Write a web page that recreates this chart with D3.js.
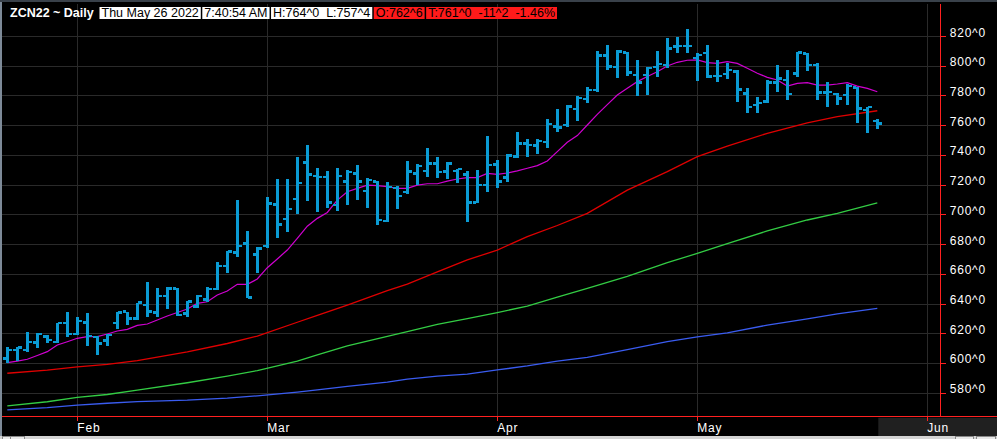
<!doctype html>
<html lang="en">
<head>
    <meta charset="UTF-8">
    <title>ZCN22 Daily</title>
    <script src="https://d3js.org/d3.v7.min.js"></script>
    <style>
        html, body { margin: 0; padding: 0; background: #000; }
        svg { display: block; }
        .hdr { font-family: "Liberation Sans", Arial, sans-serif; font-size: 12.5px; }
        .axis-label { font-family: "Liberation Sans", Arial, sans-serif; font-size: 12px; fill: #fff; letter-spacing: 0.8px; }
    </style>
</head>
<body>
<div class="canvas"></div>

<script>
  // trading days shown on the chart
  const dates = [
    '2022-01-21','2022-01-24','2022-01-25','2022-01-26','2022-01-27','2022-01-28','2022-01-31',
    '2022-02-01','2022-02-02','2022-02-03','2022-02-04','2022-02-07','2022-02-08','2022-02-09','2022-02-10','2022-02-11',
    '2022-02-14','2022-02-15','2022-02-16','2022-02-17','2022-02-18','2022-02-22','2022-02-23','2022-02-24','2022-02-25','2022-02-28',
    '2022-03-01','2022-03-02','2022-03-03','2022-03-04','2022-03-07','2022-03-08','2022-03-09','2022-03-10','2022-03-11',
    '2022-03-14','2022-03-15','2022-03-16','2022-03-17','2022-03-18','2022-03-21','2022-03-22','2022-03-23','2022-03-24','2022-03-25',
    '2022-03-28','2022-03-29','2022-03-30','2022-03-31',
    '2022-04-01','2022-04-04','2022-04-05','2022-04-06','2022-04-07','2022-04-08','2022-04-11','2022-04-12','2022-04-13','2022-04-14',
    '2022-04-18','2022-04-19','2022-04-20','2022-04-21','2022-04-22','2022-04-25','2022-04-26','2022-04-27','2022-04-28','2022-04-29',
    '2022-05-02','2022-05-03','2022-05-04','2022-05-05','2022-05-06','2022-05-09','2022-05-10','2022-05-11','2022-05-12','2022-05-13',
    '2022-05-16','2022-05-17','2022-05-18','2022-05-19','2022-05-20','2022-05-23','2022-05-24','2022-05-25','2022-05-26'
  ];

  const open = [603,608.7,608.7,613.7,617.7,614.3,626.7, 619.5,627.1,617.3,615,626.7,634.5,629.8,639,634,
    645,650.2,633.4,637.9,642.8,649.8,665.2,674.4,680.5,673.1,
    678.7,706.7,696.9,710.3,735,726,725.3,706.3,722, 727.6,715.7,722,695.5,717.9,715.2,727.6,729.1,734.3,728.7,
    729,726.9,708.1,719.8,
    733.5,724.7,738.8,747.8,746.2,748.5,759,760.1,770.9,777.6, 783.7,807,799,808.8,793.8,793.8,799,800.5,812.9,813.3,
    805,808.4,793.1,794.5,796,781.4,773.6,775.8,788.6,790.4, 794.9,808.3,800.5,781.9,781,780.3,785.4,770.2,762.75];
  const high = [610.5,611,620.8,620,618.8,626.7,634.1, 631.2,633.4,618.2,619.5,634.3,634.5,640.6,654.5,650.2,
    650.9,650.2,641.9,645.7,650.9,667.7,675.3,709.7,688.8,678.3,
    711.9,723.8,723.8,738.6,746.6,731,729.1,731.4,729.8, 733.2,724.7,722.4,721.5,719.3,735.9,733.6,744.4,738.8,735,
    730.5,729.2,729.9,752.7,
    736.6,740.4,755.2,750.5,750.5,764.2,770.9,773.6,779.7,785.9, 809.9,814,810.6,809,803.9,799,810,818.5,819.1,824.5,
    808.4,814,803.9,802.1,797.2,784.8,778.7,790.4,800.5,797.1, 809.5,808.8,801.6,789.3,781.4,787.7,785.9,772.4,764];
  const low = [600,601,607.6,609.9,613.2,613.2,617.3, 618.8,611.4,605.4,611.4,622.6,625.6,628.9,630.7,630.7,
    636,631.6,631.2,636.8,641.3,649.1,660.3,671.5,643.5,660.3,
    677.1,683.9,688.4,700,709,701.3,704.5,702.2,706.3, 709.6,704,692.8,695,703.6,713.4,719.7,725.3,724.7,723.8,
    720.9,695.1,707.4,714.8,
    718,722,737.7,738.8,740.4,744.9,755.2,759,762.8,774.7, 782.6,796.8,791.5,793.1,779.7,780.3,792.7,798.3,808.4,808.8,
    790,791.5,789.3,790.9,775.8,768.4,768.4,775.1,782.5,776.9, 792.2,796.7,776.9,772.4,773.6,773.6,761.7,754.5,757.5];
  const close = [608.7,610.5,614.3,619.5,615.5,626.7,619.5, 628.2,618,613.2,618.8,633.9,630,640.6,634.5,645,
    650.2,632.3,641.3,645.1,649.6,665.2,674.9,678.9,644,677.1,
    707.4,693.3,703.6,720.9,726.9,725.3,708.1,726,728.3, 722,723.1,696.2,718.6,712.5,728.7,732.7,734.3,728.3,734.3,
    730.5,708.1,719.8,733.2,
    722,739.5,747.8,746.7,749.4,760.6,758.5,772.5,778.1,783.7, 806.8,799.4,809.5,795.4,788.6,798.3,801.2,811.7,813.3,813.3,
    807.3,792.7,793.1,797.2,784.1,772.4,775.1,788.6,791.5,781, 808.8,800.5,781.9,782.5,778,786.3,771.3,772.4,761];

  // short moving average, read for every bar
  const maShort = [600.2,601.2,602.5,605,607.6,612.1,614.3, 616.6,617.7,617.7,619.5,621.5,622.6,625.3,626.2,628.9,
    631.6,634,636.3,640.1,641.2,645.7,648.4,652.9,652.9,656.5,
    664.1,670,676,683.9,692,697.3,701.3,709.6,715.2, 717.5,719.7,719.3,718.6,717.5,717.5,719.7,720.6,720.6,722.4,
    723.8,724.7,724.7,727.6,
    726.9,727.8,729.2,731,732.8,735.9,742.2,748.5,753,760.1, 767.3,773.8,780.3,784.8,789.3,792.7,796,799.8,802.3,803.7,
    803.9,802.1,801.6,802.8,801.6,798.3,794.9,792.2,790.4,786.3, 788.1,788.6,787,787,787.7,788.6,786.3,784.8,782.5];

  // longer averages, read at these bar positions
  const maAt = [0,4,7,10,13,18,22,25,29,31,34,38,40,43,46,49,52,55,58,62,66,69,72,76,80,83,87];
  const maRed = [593.1,595.2,597.4,599,601.6,607.5,613.1,618.1,627.4,632,639,648.7,653.1,661.3,669.3,676,685,692.5,
    700.7,716.3,728.7,738.8,745.9,754.5,761.6,765.7,769.7];
  const maGreen = [571.1,573.9,576.8,578.8,581.7,586.7,591.2,594.9,601.2,605.4,611.5,617.9,621.1,626,629.9,633.9,638.3,
    644.3,650.2,658.3,667.5,673.7,680.3,688.8,696.2,700.7,707.8];
  const maBlue = [568.4,569.9,571.6,572.9,574,575,576.4,577.9,580.4,581.9,584.3,587.1,589.1,591.2,592.5,595.3,598,
    601.2,603.8,609,614.3,617.5,620.2,625.5,629.7,633,636.7];

  const yTicks = [580, 600, 620, 640, 660, 680, 700, 720, 740, 760, 780, 800, 820];
  const monthTicks = [['Feb', 7], ['Mar', 26], ['Apr', 49], ['May', 69], ['Jun', 92]];

  const headerWhite = ['Thu May 26 2022', '7:40:54 AM', 'H:764^0  L:757^4'];
  const headerRed = ['O:762^6', 'T:761^0  -11^2  -1.46%'];

  const W = 997, H = 439;
  const plotLeft = 2, plotRight = 940.7, plotTop = 4, plotBottom = 416.7;

  const x = d3.scaleLinear().domain([-0.53, 93.34]).range([plotLeft, plotRight]);
  const y = d3.scaleLinear().domain([580, 820]).range([392.7, 36]);

  const svg = d3.select('.canvas')
    .append('svg')
    .attr('width', W)
    .attr('height', H);

  svg.append('rect').attr('width', W).attr('height', H).attr('fill', '#000');

  // grid
  const grid = svg.append('g').attr('shape-rendering', 'crispEdges');
  grid.selectAll('line.h')
    .data(yTicks)
    .join('line')
    .attr('class', 'h')
    .attr('x1', plotLeft).attr('x2', plotRight)
    .attr('y1', d => Math.round(y(d)) + 0.5).attr('y2', d => Math.round(y(d)) + 0.5)
    .attr('stroke', '#2a2a2a');
  grid.selectAll('line.v')
    .data(monthTicks)
    .join('line')
    .attr('class', 'v')
    .attr('x1', d => Math.round(x(d[1])) + 0.5).attr('x2', d => Math.round(x(d[1])) + 0.5)
    .attr('y1', plotTop).attr('y2', plotBottom)
    .attr('stroke', '#2a2a2a');

  // date band, future part is lighter
  svg.append('rect')
    .attr('x', x(dates.length - 1) + 1).attr('y', plotBottom + 1)
    .attr('width', W - x(dates.length - 1)).attr('height', 19)
    .attr('fill', '#202020');

  const plot = svg.append('g');

  // moving averages
  const line = d3.line().x(d => x(d[0])).y(d => y(d[1]));
  const longLines = [[maBlue, '#3a5cf0'], [maGreen, '#33cc44'], [maRed, '#e00000']];
  longLines.forEach(([vals, color]) => {
    plot.append('path')
      .attr('d', line(maAt.map((i, k) => [i, vals[k]])))
      .attr('fill', 'none')
      .attr('stroke', color)
      .attr('stroke-width', 1.3);
  });
  plot.append('path')
    .attr('d', line(maShort.map((v, i) => [i, v])))
    .attr('fill', 'none')
    .attr('stroke', '#d000d0')
    .attr('stroke-width', 1.2);

  // OHLC bars
  const barColor = '#0a9bd4';
  const bars = plot.append('g').attr('fill', barColor).attr('shape-rendering', 'crispEdges');
  const idx = d3.range(dates.length);
  bars.selectAll('rect.hl')
    .data(idx)
    .join('rect')
    .attr('class', 'hl')
    .attr('x', i => x(i) - 1.5)
    .attr('width', 3)
    .attr('y', i => y(high[i]))
    .attr('height', i => Math.max(2, y(low[i]) - y(high[i])));
  bars.selectAll('rect.o')
    .data(idx)
    .join('rect')
    .attr('class', 'o')
    .attr('x', i => x(i) - 4.5)
    .attr('width', 3.5)
    .attr('y', i => y(open[i]) - 1.2)
    .attr('height', 2.4);
  bars.selectAll('rect.c')
    .data(idx)
    .join('rect')
    .attr('class', 'c')
    .attr('x', i => x(i) + 1)
    .attr('width', 3.5)
    .attr('y', i => y(close[i]) - 1.2)
    .attr('height', 2.4);

  // axes
  const axes = svg.append('g').attr('stroke', '#ff2020').attr('shape-rendering', 'crispEdges');
  axes.append('line')
    .attr('x1', plotRight).attr('x2', plotRight)
    .attr('y1', plotTop).attr('y2', plotBottom);
  axes.append('line')
    .attr('x1', 0).attr('x2', W)
    .attr('y1', plotBottom).attr('y2', plotBottom);
  axes.selectAll('line.yt')
    .data(yTicks)
    .join('line')
    .attr('class', 'yt')
    .attr('x1', plotRight).attr('x2', plotRight + 5)
    .attr('y1', d => Math.round(y(d)) + 0.5).attr('y2', d => Math.round(y(d)) + 0.5);
  axes.selectAll('line.xt')
    .data(monthTicks)
    .join('line')
    .attr('class', 'xt')
    .attr('x1', d => Math.round(x(d[1])) + 0.5).attr('x2', d => Math.round(x(d[1])) + 0.5)
    .attr('y1', plotBottom).attr('y2', plotBottom + 4);

  svg.selectAll('text.yl')
    .data(yTicks)
    .join('text')
    .attr('class', 'axis-label yl')
    .attr('x', plotRight + 9)
    .attr('y', d => y(d) + 0.5)
    .text(d => d + '^0');

  svg.selectAll('text.xl')
    .data(monthTicks)
    .join('text')
    .attr('class', 'axis-label xl')
    .attr('x', d => x(d[1]))
    .attr('y', 431.5)
    .text(d => d[0]);

  // frame bits
  svg.append('rect').attr('x', 0).attr('y', 0).attr('width', 2).attr('height', H).attr('fill', '#7d8a98');
  svg.append('rect').attr('x', 0).attr('y', 0).attr('width', W).attr('height', 2).attr('fill', '#39414a');
  svg.append('rect').attr('x', 0).attr('y', 436).attr('width', W).attr('height', 3).attr('fill', '#d4d4d4');
  [[2, 8], [10, 14], [955, 18], [976, 19]].forEach(([bx, bw]) => {
    svg.append('rect').attr('x', bx + 0.5).attr('y', 436.5).attr('width', bw).attr('height', 4)
      .attr('fill', '#e8e8e8').attr('stroke', '#888');
  });

  // header
  const hdr = svg.append('g').attr('class', 'hdr');
  hdr.append('text')
    .attr('x', 10).attr('y', 17)
    .attr('fill', '#fff').attr('font-weight', 'bold')
    .text('ZCN22 ~ Daily');

  let hx = 99.5;
  const boxes = headerWhite.map(t => [t, '#fff']).concat(headerRed.map(t => [t, '#ff1a1a']));
  boxes.forEach(([t, fill]) => {
    const g = hdr.append('g');
    const txt = g.append('text')
      .attr('x', hx + 2).attr('y', 17)
      .attr('fill', '#000')
      .attr('xml:space', 'preserve')
      .style('white-space', 'pre')
      .text(t);
    const w = txt.node().getComputedTextLength() + 4;
    g.insert('rect', 'text')
      .attr('x', hx).attr('y', 7)
      .attr('width', w).attr('height', 12)
      .attr('fill', fill);
    hx += w + 1.5;
  });
</script>
</body>
</html>
